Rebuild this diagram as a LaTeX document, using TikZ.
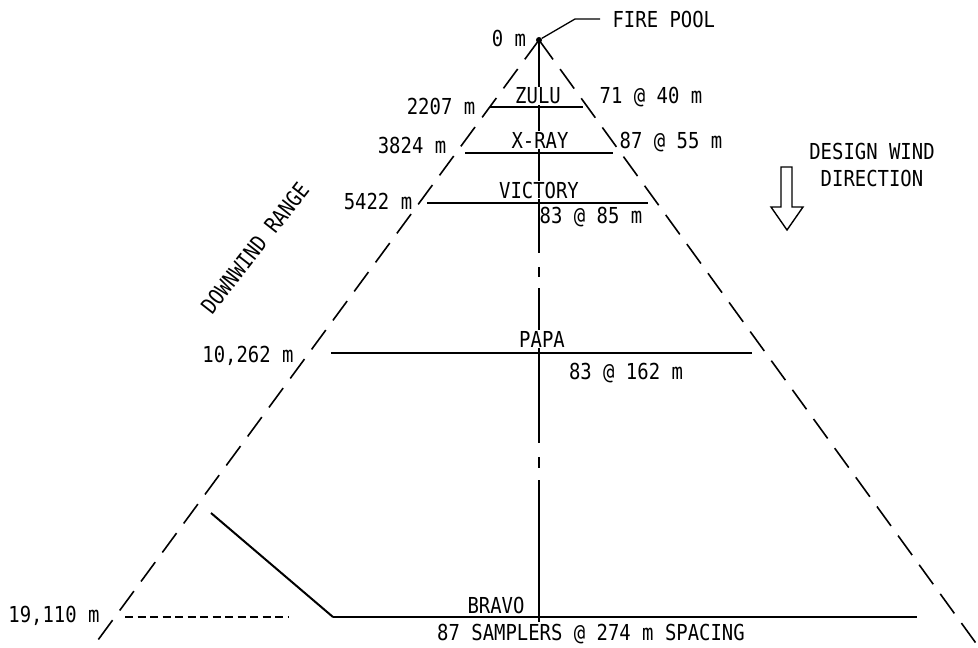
\documentclass[tikz,border=0pt]{standalone}
\usepackage{fontspec}
\newfontfamily\plotfont[FakeStretch=0.86]{DejaVu Sans Mono}
\begin{document}
\begin{tikzpicture}[x=1pt,y=-1pt,
  lbl/.style={font=\plotfont\fontsize{22}{25}\selectfont, inner sep=1pt},
  lblw/.style={lbl, fill=white},
  edge/.style={line width=1.6pt, dash pattern=on 24pt off 12pt},
  row/.style={line width=1.1pt},
  axis/.style={line width=1.4pt}]
\useasboundingbox (0,0) rectangle (978,648);
% apex and sides
\coordinate (apex) at (539,40);
\coordinate (lend) at (98,640);
\coordinate (rend) at (978,646);
\draw[edge] (apex) -- (lend);
\draw[edge] (apex) -- (rend);
% rows
\coordinate (zl) at (490,107); \coordinate (zr) at (583,107);
\coordinate (xl) at (465,153); \coordinate (xr) at (613,153);
\coordinate (vl) at (427,203); \coordinate (vr) at (648,203);
\coordinate (pl) at (331,353); \coordinate (pr) at (752,353);
\coordinate (bl) at (333,617); \coordinate (br) at (917,617);
\draw[row] (zl) -- (zr);
\draw[row] (xl) -- (xr);
\draw[row] (vl) -- (vr);
\draw[row] (pl) -- (pr);
\draw[line width=1.6pt] (bl) -- (br);
% centre line
\coordinate (c1) at (539,253); \coordinate (c2) at (539,267);
\coordinate (c3) at (539,277); \coordinate (c4) at (539,288);
\coordinate (c5) at (539,443); \coordinate (c6) at (539,457);
\coordinate (c7) at (539,468); \coordinate (c8) at (539,480);
\coordinate (cend) at (539,622);
\draw[axis] (apex) -- (c1) (c2) -- (c3) (c4) -- (c5) (c6) -- (c7) (c8) -- (cend);
% bottom extras
\coordinate (dl) at (125,617); \coordinate (dr) at (288,617);
\draw[line width=1.4pt, dash pattern=on 8pt off 4.5pt] (dl) -- (dr);
\coordinate (sd) at (211,513);
\draw[line width=2pt] (sd) -- (bl);
% fire pool
\node[circle, fill=black, inner sep=0pt, minimum size=6pt] (pool) at (apex) {};
\coordinate (lead1) at (575,19);
\coordinate (lead2) at (600,19);
\draw[line width=1.3pt] (pool) -- (lead1) -- (lead2);
\node[lbl, anchor=west] (fp) at (lead2) {~FIRE POOL};
\node[lbl] (zero) at (509,38) {0 m};
% row labels
\node[lblw] (zulu) at (538,96) {ZULU};
\node[lblw] (xray) at (540,140) {X-RAY};
\node[lblw] (victory) at (539,190) {VICTORY};
\node[lblw] (papa) at (542,339) {PAPA};
\node[lbl] (bravo) at (496,605) {BRAVO};
\node[lbl] (r1) at (441,106) {2207 m};
\node[lbl] (r2) at (412,145) {3824 m};
\node[lbl] (r3) at (378,201) {5422 m};
\node[lbl] (r4) at (248,356) {10,262 m};
\node[lbl] (r5) at (54,616) {19,110 m};
\node[lbl] (s1) at (651,97) {71 @ 40 m};
\node[lbl] (s2) at (671,142) {87 @ 55 m};
\node[lbl] (s3) at (591,217) {83 @ 85 m};
\node[lbl] (s4) at (626,373) {83 @ 162 m};
\node[lbl] (s5) at (591,634) {87 SAMPLERS @ 274 m SPACING};
\node[lbl, rotate=52] (range) at (255,248) {DOWNWIND RANGE};
% wind arrow
\node[lbl] (w1) at (872,151) {DESIGN WIND};
\node[lbl] (w2) at (872,178) {DIRECTION};
\coordinate (tip) at (787,230);
\draw[line width=1.4pt, line join=miter] (781,167) -- (792,167) -- (792,207) -- (803,207)
  -- (tip) -- (771,207) -- (781,207) -- cycle;
\end{tikzpicture}
\end{document}
